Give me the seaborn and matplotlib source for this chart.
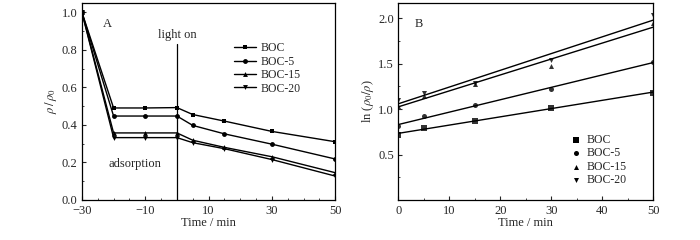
#!/usr/bin/env python3
import numpy as np
import pandas as pd
from matplotlib import pyplot as plt
from matplotlib.ticker import MultipleLocator
import seaborn as sns

# panel A: rho/rho0 vs time
time_a = [-30, -20, -10, 0, 5, 15, 30, 50]
boc_a = [1.0, 0.490, 0.490, 0.492, 0.455, 0.420, 0.365, 0.310]
boc5_a = [1.0, 0.447, 0.447, 0.447, 0.397, 0.352, 0.297, 0.218]
boc15_a = [1.0, 0.357, 0.357, 0.357, 0.318, 0.280, 0.230, 0.145]
boc20_a = [1.0, 0.332, 0.332, 0.332, 0.305, 0.273, 0.215, 0.127]

# panel B: ln(rho0/rho) vs time
time_b = [0, 5, 15, 30, 50]
boc_b = [0.714, 0.795, 0.870, 1.015, 1.180]
boc5_b = [0.810, 0.925, 1.040, 1.220, 1.520]
boc15_b = [1.035, 1.140, 1.280, 1.480, 1.945]
boc20_b = [1.100, 1.175, 1.285, 1.540, 2.035]

names = ['BOC', 'BOC-5', 'BOC-15', 'BOC-20']
markers = ['s', 'o', '^', 'v']

sns.set_style('ticks')
plt.rcParams['font.family'] = ['Liberation Serif', 'DejaVu Serif']
plt.rcParams['mathtext.fontset'] = 'stix'
plt.rcParams['xtick.direction'] = 'in'
plt.rcParams['ytick.direction'] = 'in'

dfa = pd.DataFrame({'time': time_a * 4,
                    'val': boc_a + boc5_a + boc15_a + boc20_a,
                    'sample': np.repeat(names, len(time_a))})

fig = plt.figure(figsize=(7, 2.4), dpi=100)
axA = fig.add_axes([0.117, 0.167, 0.362, 0.821])
axB = fig.add_axes([0.569, 0.167, 0.364, 0.821])

for s, m in zip(names, markers):
    d = dfa[dfa['sample'] == s]
    sns.lineplot(data=d, x='time', y='val', marker=m, color='black', lw=1.0,
                 markersize=3.5, markeredgewidth=0, label=s, ax=axA)
axA.axvline(0, ymin=0, ymax=0.83 / 1.05, color='black', lw=0.9)
axA.set_xlim(-30, 50)
axA.set_ylim(0, 1.05)
axA.set_xticks([-30, -10, 10, 30, 50])
axA.xaxis.set_minor_locator(MultipleLocator(5))
axA.yaxis.set_minor_locator(MultipleLocator(0.1))
axA.set_yticks([0.0, 0.2, 0.4, 0.6, 0.8, 1.0])
axA.set_xlabel('Time / min', fontsize=9, labelpad=0)
axA.set_ylabel(r'$\rho\,/\,\rho_0$', fontsize=9, labelpad=2)
axA.text(-23.5, 0.935, 'A', fontsize=9, va='center')
axA.text(0, 0.88, 'light on', fontsize=9, ha='center', va='center')
axA.text(-13.3, 0.19, 'adsorption', fontsize=9, ha='center', va='center')
axA.legend(loc='upper left', bbox_to_anchor=(0.6, 0.80), frameon=False, fontsize=8.5,
           handlelength=1.9, labelspacing=0.12, handletextpad=0.4, borderaxespad=0,
           borderpad=0)

dfb = pd.DataFrame({'time': time_b * 4,
                    'val': boc_b + boc5_b + boc15_b + boc20_b,
                    'sample': np.repeat(names, len(time_b))})
axB.set_xlim(0, 50)
for s, m in zip(names, markers):
    d = dfb[dfb['sample'] == s]
    sns.regplot(data=d, x='time', y='val', ci=None, marker=m, color='black', ax=axB,
                scatter_kws={'s': 13, 'linewidths': 0}, line_kws={'lw': 1.0})
    axB.scatter([], [], marker=m, color='black', s=13, linewidths=0, label=s)
axB.set_xlim(0, 50)
axB.set_ylim(0, 2.17)
axB.set_xticks([0, 10, 20, 30, 40, 50])
axB.set_yticks([0.5, 1.0, 1.5, 2.0])
axB.xaxis.set_minor_locator(MultipleLocator(5))
axB.yaxis.set_minor_locator(MultipleLocator(0.25))
axB.set_xlabel('Time / min', fontsize=9, labelpad=0)
axB.set_ylabel(r'ln ($\rho_0/\rho$)', fontsize=9, labelpad=2)
axB.text(3.3, 1.94, 'B', fontsize=9, va='center')
axB.legend(loc='lower left', bbox_to_anchor=(0.68, 0.07), frameon=False, fontsize=8.5,
           handlelength=0.8, labelspacing=0.12, handletextpad=0.5, borderaxespad=0,
           borderpad=0)

for ax in (axA, axB):
    ax.tick_params(labelsize=9, length=3, width=0.8)
    ax.tick_params(axis='x', pad=4)
    ax.tick_params(axis='y', pad=3)
    ax.tick_params(which='minor', length=1.5, width=0.6)
    for sp in ax.spines.values():
        sp.set_linewidth(0.9)
        sp.set_color('black')

plt.savefig('out.png', dpi=100)
